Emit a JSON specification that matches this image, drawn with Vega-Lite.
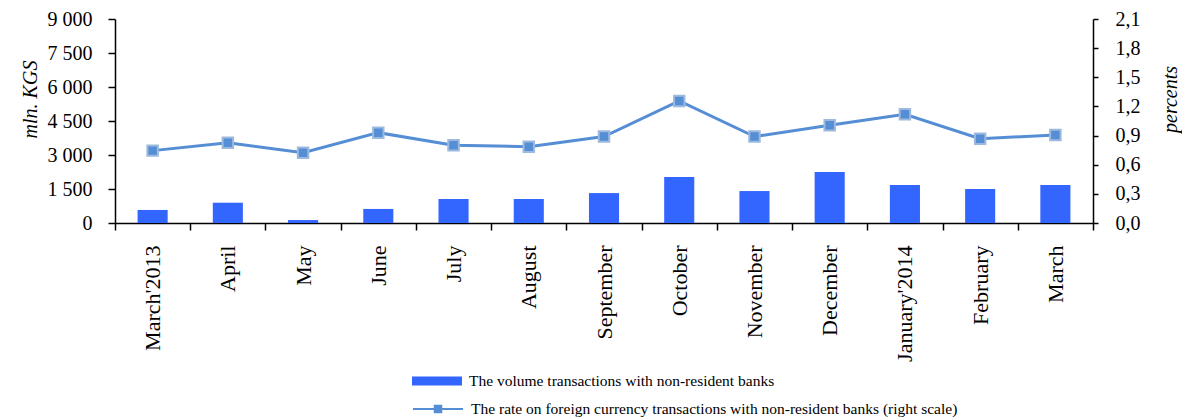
{
  "$schema": "https://vega.github.io/schema/vega-lite/v6.json",
  "width": 978,
  "height": 204,
  "autosize": {"type": "none"},
  "padding": {"left": 115, "top": 19, "right": 89, "bottom": 197},
  "background": "white",
  "config": {
    "view": {"stroke": null},
    "font": "Liberation Serif",
    "axis": {
      "grid": false,
      "domainColor": "black",
      "tickColor": "black",
      "labelColor": "black",
      "titleColor": "black",
      "labelFont": "Liberation Serif",
      "titleFont": "Liberation Serif",
      "domainWidth": 1.5,
      "tickWidth": 1.5
    }
  },
  "data": {
    "values": [
      {"month": "March'2013", "volume": 575, "rate": 0.745},
      {"month": "April", "volume": 895, "rate": 0.827},
      {"month": "May", "volume": 130, "rate": 0.724},
      {"month": "June", "volume": 620, "rate": 0.93},
      {"month": "July", "volume": 1060, "rate": 0.80},
      {"month": "August", "volume": 1060, "rate": 0.786},
      {"month": "September", "volume": 1320, "rate": 0.89},
      {"month": "October", "volume": 2030, "rate": 1.256},
      {"month": "November", "volume": 1410, "rate": 0.89},
      {"month": "December", "volume": 2250, "rate": 1.006},
      {"month": "January'2014", "volume": 1680, "rate": 1.12},
      {"month": "February", "volume": 1500, "rate": 0.868},
      {"month": "March", "volume": 1680, "rate": 0.906}
    ]
  },
  "encoding": {
    "x": {
      "field": "month",
      "type": "nominal",
      "sort": null,
      "scale": {"paddingInner": 0, "paddingOuter": 0},
      "axis": {
        "title": null,
        "labelAngle": -90,
        "labelAlign": "right",
        "labelBaseline": "middle",
        "labelFontSize": 22,
        "tickBand": "extent",
        "tickSize": 7,
        "labelPadding": 15
      }
    }
  },
  "layer": [
    {
      "mark": {"type": "bar", "width": {"band": 0.4}},
      "encoding": {
        "y": {
          "field": "volume",
          "type": "quantitative",
          "scale": {"domain": [0, 9000]},
          "axis": {
            "values": [0, 1500, 3000, 4500, 6000, 7500, 9000],
            "labelExpr": "replace(format(datum.value, ',d'), ',', ' ')",
            "labelFontSize": 20,
            "labelPadding": 16,
            "tickSize": 7,
            "title": "mln. KGS",
            "titleFontStyle": "italic",
            "titleFontWeight": "normal",
            "titleFontSize": 20,
            "titleAngle": 270,
            "titleX": -85,
            "titleY": 80,
            "titleAlign": "center",
            "titleBaseline": "middle"
          }
        },
        "fill": {
          "datum": "The volume transactions with non-resident banks",
          "type": "nominal",
          "scale": {"range": ["#3366FF"]},
          "legend": {
            "orient": "none",
            "legendX": 297,
            "legendY": 337,
            "title": null,
            "padding": 0,
            "symbolType": "M-1,-0.18H1V0.18H-1Z",
            "symbolSize": 2500,
            "symbolStrokeWidth": 0,
            "labelFont": "Liberation Serif",
            "labelFontSize": 15.5,
            "labelColor": "black",
            "labelLimit": 900,
            "labelOffset": 7
          }
        }
      }
    },
    {
      "encoding": {
        "y": {
          "field": "rate",
          "type": "quantitative",
          "scale": {"domain": [0, 2.1]},
          "axis": {
            "orient": "right",
            "values": [0, 0.3, 0.6, 0.9, 1.2, 1.5, 1.8, 2.1],
            "labelExpr": "replace(format(datum.value, '.1f'), '.', ',')",
            "labelFontSize": 20,
            "labelPadding": 17,
            "tickSize": 5,
            "title": "percents",
            "titleFontStyle": "italic",
            "titleFontWeight": "normal",
            "titleFontSize": 20,
            "titleAngle": 270,
            "titleX": 77,
            "titleY": 80,
            "titleAlign": "center",
            "titleBaseline": "middle"
          }
        }
      },
      "layer": [
        {
          "mark": {"type": "line", "strokeWidth": 3},
          "encoding": {
            "stroke": {
              "datum": "The rate on foreign currency transactions with non-resident banks (right scale)",
              "type": "nominal",
              "scale": {"range": ["#558ED5"]},
              "legend": {
                "orient": "none",
                "legendX": 297,
                "legendY": 364,
                "title": null,
                "padding": 0,
                "symbolType": "M-1,0H1M-0.13,-0.13H0.13V0.13H-0.13Z",
                "symbolSize": 2500,
                "symbolStrokeWidth": 2,
                "symbolFillColor": "#558ED5",
                "labelFont": "Liberation Serif",
                "labelFontSize": 15.5,
                "labelColor": "black",
                "labelLimit": 900,
                "labelOffset": 7
              }
            }
          }
        },
        {
          "mark": {"type": "point", "shape": "square", "size": 110, "filled": true, "fill": "#558ED5", "stroke": "#9DB9DE", "strokeWidth": 2, "opacity": 1},
          "encoding": {}
        }
      ]
    }
  ],
  "resolve": {"scale": {"y": "independent", "fill": "independent", "stroke": "independent"}}
}
